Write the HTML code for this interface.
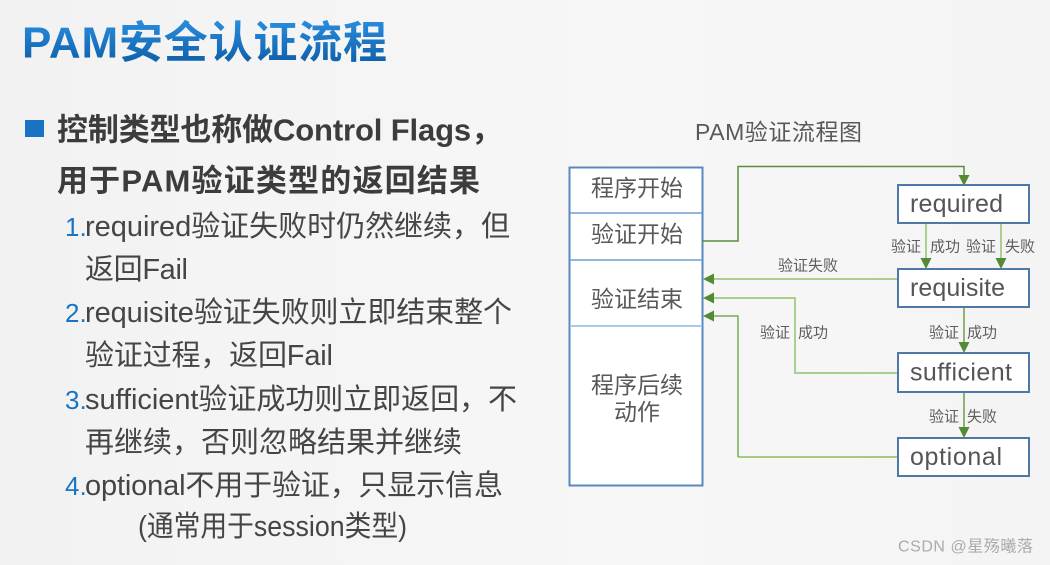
<!DOCTYPE html>
<html><head><meta charset="utf-8">
<style>
html,body{margin:0;padding:0;}
body{width:1050px;height:565px;overflow:hidden;background:#f5f5f5;}
svg{display:block;}
text{font-family:"Liberation Sans","Noto Sans CJK SC",sans-serif;}
</style></head><body>
<svg width="1050" height="565" viewBox="0 0 1050 565" xmlns="http://www.w3.org/2000/svg">
<defs>
<linearGradient id="tg" x1="0" y1="0" x2="0" y2="1">
<stop offset="0" stop-color="#2a8ee0"/><stop offset="1" stop-color="#0c5ca4"/>
</linearGradient>
<linearGradient id="bg" x1="0" y1="0" x2="1" y2="0">
<stop offset="0" stop-color="#f2f2f2"/><stop offset="0.6" stop-color="#f7f7f7"/><stop offset="1" stop-color="#f4f4f4"/>
</linearGradient>
</defs>
<rect width="1050" height="565" fill="url(#bg)"/>

<!-- Title -->
<text x="22" y="43" dominant-baseline="central" font-size="44" font-weight="bold" fill="url(#tg)" textLength="365">PAM安全认证流程</text>

<!-- bullet -->
<rect x="25" y="120" width="19" height="17" fill="#1a73c2"/>
<text x="57" y="130" dominant-baseline="central" font-size="31" font-weight="bold" fill="#3c3c3c" textLength="445">控制类型也称做Control Flags，</text>
<text x="57" y="181" dominant-baseline="central" font-size="31" font-weight="bold" fill="#3c3c3c" textLength="423">用于PAM验证类型的返回结果</text>

<g font-size="29" fill="#454545">
<text x="65" y="227" dominant-baseline="central" fill="#1a74c4" font-size="26">1.</text>
<text x="85" y="227" dominant-baseline="central" textLength="425">required验证失败时仍然继续，但</text>
<text x="85" y="270" dominant-baseline="central" textLength="103">返回Fail</text>
<text x="65" y="313" dominant-baseline="central" fill="#1a74c4" font-size="26">2.</text>
<text x="85" y="313" dominant-baseline="central" textLength="427">requisite验证失败则立即结束整个</text>
<text x="85" y="356" dominant-baseline="central" textLength="248">验证过程，返回Fail</text>
<text x="65" y="400" dominant-baseline="central" fill="#1a74c4" font-size="26">3.</text>
<text x="85" y="400" dominant-baseline="central" textLength="432">sufficient验证成功则立即返回，不</text>
<text x="85" y="443" dominant-baseline="central" textLength="377">再继续，否则忽略结果并继续</text>
<text x="65" y="486" dominant-baseline="central" fill="#1a74c4" font-size="26">4.</text>
<text x="85" y="486" dominant-baseline="central" textLength="418">optional不用于验证，只显示信息</text>
<text x="138" y="527" dominant-baseline="central" textLength="269" lengthAdjust="spacingAndGlyphs">(通常用于session类型)</text>
</g>

<!-- Diagram title -->
<text x="695" y="132" dominant-baseline="central" font-size="23" fill="#595959" textLength="167">PAM验证流程图</text>

<!-- Left column box -->
<rect x="569.5" y="167.5" width="133" height="318" fill="#ffffff" stroke="#5a88c0" stroke-width="2"/>
<line x1="570" y1="213" x2="702" y2="213" stroke="#6fa0d6" stroke-width="1.5"/>
<line x1="570" y1="260" x2="702" y2="260" stroke="#6fa0d6" stroke-width="1.5"/>
<line x1="570" y1="326" x2="702" y2="326" stroke="#a9c9ea" stroke-width="2"/>
<g font-size="23" fill="#595959" text-anchor="middle">
<text x="637" y="188" dominant-baseline="central">程序开始</text>
<text x="637" y="234" dominant-baseline="central">验证开始</text>
<text x="637" y="299" dominant-baseline="central">验证结束</text>
<text x="637" y="385" dominant-baseline="central">程序后续</text>
<text x="637" y="412" dominant-baseline="central">动作</text>
</g>

<!-- Connectors -->
<g fill="none">
<path d="M702,241 H738 V166.5 H964 V176" stroke="#5a8f3c" stroke-width="1.5"/>
<path d="M926,223 V262" stroke="#a9d08e" stroke-width="2"/>
<path d="M1001,223 V262" stroke="#a9d08e" stroke-width="2"/>
<path d="M898,279 H712" stroke="#a9d08e" stroke-width="2"/>
<path d="M898,373 H795 V298 H712" stroke="#a9d08e" stroke-width="2"/>
<path d="M898,457 H738" stroke="#a2cc86" stroke-width="2"/>
<path d="M738,457 V316 H712" stroke="#78ab57" stroke-width="1.5"/>
<path d="M964,307 V345" stroke="#6a9e47" stroke-width="1.5"/>
<path d="M964,392 V430" stroke="#6a9e47" stroke-width="1.5"/>
</g>
<g fill="#548a33">
<polygon points="964,186 958.5,175 969.5,175"/>
<polygon points="926,269 920.5,258 931.5,258"/>
<polygon points="1001,269 995.5,258 1006.5,258"/>
<polygon points="964,353 958.5,342 969.5,342"/>
<polygon points="964,438 958.5,427 969.5,427"/>
<polygon points="703,279 714,273.5 714,284.5"/>
<polygon points="703,298 714,292.5 714,303.5"/>
<polygon points="703,316 714,310.5 714,321.5"/>
</g>

<!-- Right boxes -->
<g fill="#ffffff" stroke="#4e79a7" stroke-width="2">
<rect x="898" y="185" width="131" height="38"/>
<rect x="898" y="269" width="131" height="38"/>
<rect x="898" y="353" width="131" height="39"/>
<rect x="898" y="438" width="131" height="38"/>
</g>
<g font-size="25" fill="#555555">
<text x="910" y="204" dominant-baseline="central" textLength="93">required</text>
<text x="910" y="288" dominant-baseline="central" textLength="95">requisite</text>
<text x="910" y="372.5" dominant-baseline="central" textLength="102">sufficient</text>
<text x="910" y="457" dominant-baseline="central" textLength="92">optional</text>
</g>

<!-- small labels -->
<g font-size="15" fill="#5e5e5e">
<text x="891" y="247" dominant-baseline="central">验证</text>
<text x="930" y="247" dominant-baseline="central">成功</text>
<text x="966" y="247" dominant-baseline="central">验证</text>
<text x="1005" y="247" dominant-baseline="central">失败</text>
<text x="778" y="266" dominant-baseline="central">验证失败</text>
<text x="760" y="333" dominant-baseline="central">验证</text>
<text x="798" y="333" dominant-baseline="central">成功</text>
<text x="929" y="333" dominant-baseline="central">验证</text>
<text x="967" y="333" dominant-baseline="central">成功</text>
<text x="929" y="417" dominant-baseline="central">验证</text>
<text x="967" y="417" dominant-baseline="central">失败</text>
</g>

<!-- watermark -->
<text x="898" y="547" dominant-baseline="central" font-size="16" fill="#ababab" textLength="135">CSDN @星殇曦落</text>
</svg>
</body></html>
